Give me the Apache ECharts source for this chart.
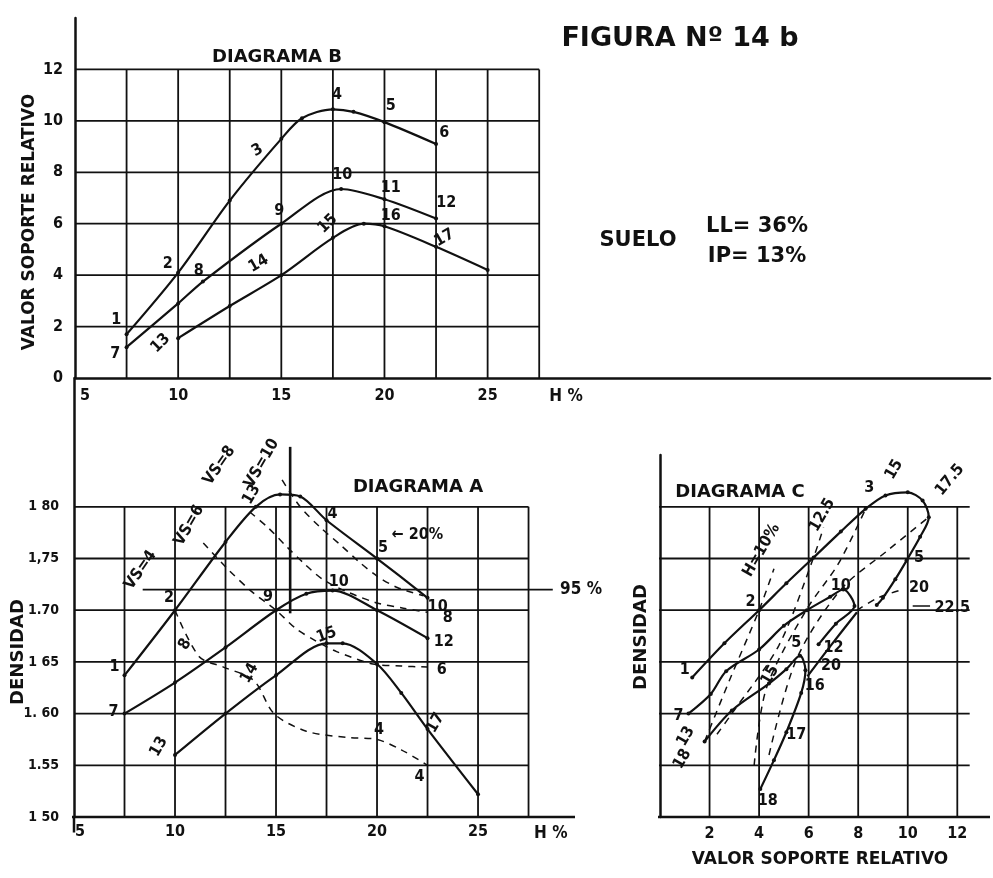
<!DOCTYPE html>
<html>
<head>
<meta charset="utf-8">
<script src="https://cdn.jsdelivr.net/npm/echarts@6/dist/echarts.min.js"></script>
<style>
  html, body { margin: 0; padding: 0; background: #ffffff; }
  #chart { width: 993px; height: 878px; }
</style>
</head>
<body>
<div id="chart"></div>
<script>
// ---------- tick values / labels ----------
const hTickLabels = [5, 10, 15, 20, 25];                 // H % axis labels
const vsTickLabels = [0, 2, 4, 6, 8, 10, 12];            // VSR axis labels (diagram B)
const densTickText = ['1 50', '1.55', '1. 60', '1 65', '1.70', '1,75', '1 80'];
const vsrTickLabelsC = [2, 4, 6, 8, 10, 12];             // VSR axis labels (diagram C)

// grid line positions
const gridH = [7.5, 10, 12.5, 15, 17.5, 20, 22.5, 25, 27.5];
const gridVS = [2, 4, 6, 8, 10, 12];
const gridDens = [1.55, 1.60, 1.65, 1.70, 1.75, 1.80];
const gridVSC = [2, 4, 6, 8, 10, 12];

// ---------- DIAGRAMA B : VSR vs H % ----------
const curveB1 = [[7.5, 1.7], [10, 4.1], [12.5, 6.9], [15, 9.3], [16, 10.1], [17.5, 10.45], [18.5, 10.35], [20, 9.95], [22.5, 9.1]];
const curveB2 = [[7.5, 1.2], [10, 2.9], [11.2, 3.75], [15, 6.0], [17.9, 7.35], [20, 6.95], [22.5, 6.2]];
const curveB3 = [[10, 1.55], [12.5, 2.8], [15, 4.0], [17.5, 5.45], [19, 6.0], [20, 5.9], [22.5, 5.1], [25, 4.2]];

const labelsB = [
  ['1', 7.0, 2.25], ['7', 6.95, 0.95], ['2', 9.5, 4.45], ['3', 13.85, 8.85, 30],
  ['4', 17.7, 11.0], ['5', 20.3, 10.6], ['6', 22.9, 9.55],
  ['8', 11.0, 4.15], ['9', 14.9, 6.5], ['10', 17.95, 7.9], ['11', 20.3, 7.4], ['12', 23.0, 6.8],
  ['13', 9.15, 1.35, 45], ['14', 13.9, 4.45, 30], ['15', 17.25, 6.0, 45], ['16', 20.3, 6.3], ['17', 22.9, 5.45, 30]
];

// ---------- DIAGRAMA A : densidad vs H % ----------
const curveA1 = [[7.5, 1.637], [10, 1.70], [12.5, 1.766], [14, 1.80], [15.2, 1.812], [16.2, 1.81], [17.5, 1.787], [20, 1.75], [22.5, 1.712]];
const curveA2 = [[7.5, 1.60], [10, 1.63], [12.5, 1.664], [15, 1.70], [16.5, 1.716], [17.8, 1.719], [20, 1.70], [22.5, 1.673]];
const curveA3 = [[10, 1.56], [12.5, 1.60], [15, 1.637], [17.5, 1.668], [18.3, 1.668], [20, 1.648], [21.2, 1.62], [22.5, 1.585], [25, 1.522]];

// lines of equal VSR
const isoVS4 = [[10, 1.70], [11.2, 1.655], [12.4, 1.645], [13.9, 1.632], [14.9, 1.60], [16.5, 1.583], [18.5, 1.577], [20, 1.575], [21.2, 1.565], [22.5, 1.55]];
const isoVS6 = [[11.4, 1.765], [12.6, 1.74], [13.8, 1.718], [15, 1.70], [16, 1.682], [17, 1.67], [18, 1.66], [19.8, 1.648], [21.2, 1.646], [22.5, 1.645]];
const isoVS8 = [[13.7, 1.795], [14.6, 1.78], [15.5, 1.762], [16.4, 1.745], [17.3, 1.73], [18.5, 1.718], [20, 1.707], [21.3, 1.702], [22.5, 1.698]];
const isoVS10 = [[15.3, 1.826], [16.2, 1.80], [17.2, 1.78], [18.2, 1.763], [19.1, 1.747], [20, 1.733], [21, 1.722], [22.3, 1.714]];
const optimumLine = [[15.7, 1.697], [15.7, 1.858]];
const line95 = [[8.4, 1.72], [28.7, 1.72]];

const labelsA = [
  ['1', 7.0, 1.645], ['2', 9.7, 1.712], ['13', 13.8, 1.812, 60], ['4', 17.8, 1.793], ['5', 20.3, 1.760],
  ['10', 23.0, 1.703], ['8', 23.5, 1.693], ['12', 23.3, 1.669], ['6', 23.2, 1.642],
  ['9', 14.6, 1.713], ['10', 18.1, 1.727], ['8', 10.5, 1.667, 60], ['7', 6.95, 1.602],
  ['15', 17.5, 1.676, 20], ['14', 13.7, 1.639, 60], ['13', 9.2, 1.568, 60], ['17', 22.9, 1.591, 60],
  ['4', 20.1, 1.584], ['4', 22.1, 1.539],
  ['VS=4', 8.3, 1.739, 55], ['VS=6', 10.7, 1.782, 60], ['VS=8', 12.2, 1.84, 55], ['VS=10', 14.3, 1.842, 60],
  ['\u2190 20%', 22.0, 1.773]
];

// axis unit captions placed in data space
const captionsB = [['H %', 28.8, -0.72]];
const captionsA = [['95 %', 30.1, 1.72], ['H %', 28.6, 1.4835]];

// ---------- DIAGRAMA C : densidad vs VSR ----------
const curveC1 = [[1.3, 1.635], [2.6, 1.668], [4.0, 1.70], [5.1, 1.726], [6.2, 1.751], [7.3, 1.776], [8.3, 1.798], [9.1, 1.811], [10.0, 1.814], [10.6, 1.806], [10.85, 1.79], [10.5, 1.771], [9.95, 1.748], [9.5, 1.73], [9.0, 1.712], [8.75, 1.705]];
const curveC2 = [[1.15, 1.60], [2.05, 1.619], [2.67, 1.641], [4.0, 1.662], [5.0, 1.685], [5.93, 1.70], [6.87, 1.713], [7.4, 1.72], [7.85, 1.704], [7.1, 1.687], [6.4, 1.667]];
const curveC3 = [[1.8, 1.573], [2.9, 1.603], [4.4, 1.629], [5.1, 1.643], [5.65, 1.656], [5.87, 1.642], [5.7, 1.62], [5.1, 1.582], [4.6, 1.555], [4.05, 1.527]];
const linkC = [[5.95, 1.636], [6.9, 1.666], [7.95, 1.698]];

// lines of equal moisture
const isoH10 = [[1.8, 1.573], [2.8, 1.632], [4.0, 1.70], [4.6, 1.74]];
const isoH125 = [[2.3, 1.58], [2.9, 1.60], [4.8, 1.666], [6.2, 1.751], [6.6, 1.78]];
const isoH15 = [[3.8, 1.55], [4.3, 1.625], [5.9, 1.70], [7.2, 1.745], [8.3, 1.798]];
const isoH175 = [[4.4, 1.56], [5.5, 1.652], [7.3, 1.72], [9.2, 1.758], [10.85, 1.79]];
const isoH20 = [[7.95, 1.70], [8.8, 1.712], [9.8, 1.72]];
const isoH225 = [[10.2, 1.704], [10.9, 1.704]];

const labelsC = [
  ['1', 1.0, 1.642], ['7', 0.75, 1.598], ['13', 1.05, 1.578, 60], ['18', 0.9, 1.556, 60],
  ['2', 3.65, 1.708], ['H=10%', 4.1, 1.758, 60], ['12.5', 6.55, 1.792, 60], ['3', 8.45, 1.818],
  ['15', 9.45, 1.836, 60], ['17.5', 11.7, 1.826, 50], ['5', 10.45, 1.751], ['20', 10.45, 1.722],
  ['22.5', 11.8, 1.702], ['10', 7.3, 1.724], ['5', 5.5, 1.668], ['15', 4.45, 1.637, 60],
  ['12', 7.0, 1.664], ['20', 6.9, 1.646], ['16', 6.25, 1.627], ['17', 5.5, 1.579], ['18', 4.35, 1.516]
];

// ---------- styles ----------
const INK = '#111111';
const HAND = '"Liberation Sans Narrow","DejaVu Sans Condensed",sans-serif';
const SANS = '"DejaVu Sans",sans-serif';

const series = [];
function path(gi, data, extra) {
  series.push(Object.assign({
    type: 'line', xAxisIndex: gi, yAxisIndex: gi, data: data,
    symbol: 'none', silent: true, clip: false, animation: false,
    lineStyle: { color: INK, width: 1.8 }
  }, extra || {}));
}
const curveStyle = {
  smooth: 0.3, symbol: 'circle', symbolSize: 4, showSymbol: true,
  itemStyle: { color: INK }, lineStyle: { color: INK, width: 2.2 }, z: 4
};
const dashStyle = { smooth: 0.3, lineStyle: { color: INK, width: 1.5, type: [7, 6] }, z: 3 };

function labels(gi, arr, font) {
  const base = Object.assign({
    show: true, position: 'inside', color: INK, opacity: 1,
    textBorderWidth: 0, textShadowBlur: 0,
    fontFamily: HAND, fontSize: 16, fontWeight: 'bold'
  }, font || {});
  series.push({
    type: 'scatter', xAxisIndex: gi, yAxisIndex: gi, silent: true, clip: false, animation: false,
    symbolSize: 0, itemStyle: { color: INK, opacity: 1 }, z: 6,
    label: base,
    data: arr.map(function (a) {
      return { value: [a[1], a[2]], label: Object.assign({}, base, { formatter: a[0], rotate: a[3] || 0 }) };
    })
  });
}

// grid lines
gridH.forEach(function (h) { path(0, [[h, 0], [h, 12]]); });
gridVS.forEach(function (v) { path(0, [[5, v], [27.5, v]]); });
gridH.forEach(function (h) { path(1, [[h, 1.5], [h, 1.8]]); });
gridDens.forEach(function (d) { path(1, [[5, d], [27.5, d]]); });
gridVSC.forEach(function (v) { path(2, [[v, 1.5], [v, 1.8]]); });
gridDens.forEach(function (d) { path(2, [[-0.28, d], [12.5, d]]); });

// frame pieces
path(1, [[4.15, 1.5], [29.8, 1.5]], { lineStyle: { color: INK, width: 2.5 } });
path(1, [[5, 1.5], [5, 1.485]], { lineStyle: { color: INK, width: 2.5 } });
path(2, [[-0.8, 1.5], [13.32, 1.5]], { lineStyle: { color: INK, width: 2.5 } });
path(2, [[-0.28, 1.5], [-0.28, 1.485]], { lineStyle: { color: INK, width: 2.5 } });

// diagram B
[curveB1, curveB2, curveB3].forEach(function (c) { path(0, c, curveStyle); });
labels(0, labelsB);
labels(0, captionsB, { fontSize: 17 });

// diagram A
[curveA1, curveA2, curveA3].forEach(function (c) { path(1, c, curveStyle); });
[isoVS4, isoVS6, isoVS8, isoVS10].forEach(function (c) { path(1, c, dashStyle); });
path(1, optimumLine, { lineStyle: { color: INK, width: 2.6 }, z: 4 });
path(1, line95, { lineStyle: { color: INK, width: 1.8 }, z: 3 });
labels(1, labelsA);
labels(1, captionsA, { fontSize: 17 });

// diagram C
[curveC1, curveC2, curveC3].forEach(function (c) { path(2, c, curveStyle); });
path(2, linkC, { smooth: 0.3, lineStyle: { color: INK, width: 2.2 }, z: 4 });
[isoH10, isoH125, isoH15, isoH175, isoH20].forEach(function (c) { path(2, c, dashStyle); });
path(2, isoH225, { lineStyle: { color: INK, width: 1.6 }, z: 3 });
labels(2, labelsC);

const tickFont = { color: INK, fontFamily: HAND, fontSize: 16, fontWeight: 'bold' };
function hLabel(pad) {
  return Object.assign({}, tickFont, {
    formatter: function (v) {
      if (hTickLabels.indexOf(v) < 0) return '';
      return v === 5 ? '{m|5}' : String(v);
    },
    rich: { m: Object.assign({}, tickFont, { padding: [0, 0, 0, pad] }) }
  });
}

const option = {
  backgroundColor: '#ffffff',
  animation: false,
  grid: [
    { left: 75, top: 18, width: 918, height: 360 },
    { left: 74, top: 378, width: 501, height: 439 },
    { left: 660, top: 455, width: 333, height: 362 }
  ],
  xAxis: [
    { gridIndex: 0, type: 'value', min: 5, max: 49.35, interval: 5,
      axisLine: { show: true, lineStyle: { color: INK, width: 2.5 } }, axisTick: { show: false }, splitLine: { show: false },
      axisLabel: Object.assign(hLabel(20), { margin: 10 }) },
    { gridIndex: 1, type: 'value', min: 5, max: 29.8, interval: 5,
      axisLine: { show: false }, axisTick: { show: false }, splitLine: { show: false },
      axisLabel: Object.assign(hLabel(12), { margin: 7 }) },
    { gridIndex: 2, type: 'value', min: 0, max: 13.32, interval: 2,
      axisLine: { show: false }, axisTick: { show: false }, splitLine: { show: false },
      axisLabel: Object.assign({}, tickFont, { margin: 9,
        formatter: function (v) { return vsrTickLabelsC.indexOf(v) >= 0 ? String(v) : ''; } }) }
  ],
  yAxis: [
    { gridIndex: 0, type: 'value', min: 0, max: 14, interval: 2,
      axisLine: { show: true, lineStyle: { color: INK, width: 2.5 } }, axisTick: { show: false }, splitLine: { show: false },
      axisLabel: Object.assign({}, tickFont, { margin: 12,
        formatter: function (v) { return vsTickLabels.indexOf(v) >= 0 ? String(v) : ''; } }) },
    { gridIndex: 1, type: 'value', min: 1.5, max: 1.9246, interval: 0.05,
      axisLine: { show: true, lineStyle: { color: INK, width: 2.5 } }, axisTick: { show: false }, splitLine: { show: false },
      axisLabel: Object.assign({}, tickFont, { margin: 15, fontSize: 14,
        formatter: function (v) {
          const i = Math.round((v - 1.5) / 0.05);
          if (i < 0 || i >= densTickText.length || Math.abs(v - (1.5 + i * 0.05)) > 1e-6) return '';
          return densTickText[i];
        } }) },
    { gridIndex: 2, type: 'value', min: 1.5, max: 1.8501, interval: 0.05, offset: 7,
      axisLine: { show: true, lineStyle: { color: INK, width: 2.5 } }, axisTick: { show: false }, splitLine: { show: false },
      axisLabel: { show: false } }
  ],
  graphic: [
    { type: 'text', x: 680, y: 39, style: { text: 'FIGURA N\u00ba 14 b', font: 'bold 27px ' + SANS, fill: INK, align: 'center', verticalAlign: 'middle' } },
    { type: 'text', x: 638, y: 241, style: { text: 'SUELO', font: 'bold 21px ' + SANS, fill: INK, align: 'center', verticalAlign: 'middle' } },
    { type: 'text', x: 757, y: 227, style: { text: 'LL= 36%', font: 'bold 21px ' + SANS, fill: INK, align: 'center', verticalAlign: 'middle' } },
    { type: 'text', x: 757, y: 257, style: { text: 'IP= 13%', font: 'bold 21px ' + SANS, fill: INK, align: 'center', verticalAlign: 'middle' } },
    { type: 'text', x: 277, y: 57, style: { text: 'DIAGRAMA B', font: 'bold 18px ' + SANS, fill: INK, align: 'center', verticalAlign: 'middle' } },
    { type: 'text', x: 418, y: 487, style: { text: 'DIAGRAMA A', font: 'bold 18px ' + SANS, fill: INK, align: 'center', verticalAlign: 'middle' } },
    { type: 'text', x: 740, y: 492, style: { text: 'DIAGRAMA C', font: 'bold 18px ' + SANS, fill: INK, align: 'center', verticalAlign: 'middle' } },
    { type: 'text', x: 30, y: 222, rotation: Math.PI / 2, style: { text: 'VALOR SOPORTE RELATIVO', font: 'bold 17px ' + SANS, fill: INK, align: 'center', verticalAlign: 'middle' } },
    { type: 'text', x: 18, y: 652, rotation: Math.PI / 2, style: { text: 'DENSIDAD', font: 'bold 18px ' + SANS, fill: INK, align: 'center', verticalAlign: 'middle' } },
    { type: 'text', x: 641, y: 637, rotation: Math.PI / 2, style: { text: 'DENSIDAD', font: 'bold 18px ' + SANS, fill: INK, align: 'center', verticalAlign: 'middle' } },
    { type: 'text', x: 820, y: 860, style: { text: 'VALOR SOPORTE RELATIVO', font: 'bold 17px ' + SANS, fill: INK, align: 'center', verticalAlign: 'middle' } }
  ],
  series: series
};

const chart = echarts.init(document.getElementById('chart'), null, { renderer: 'canvas' });
chart.setOption(option);
</script>
</body>
</html>
